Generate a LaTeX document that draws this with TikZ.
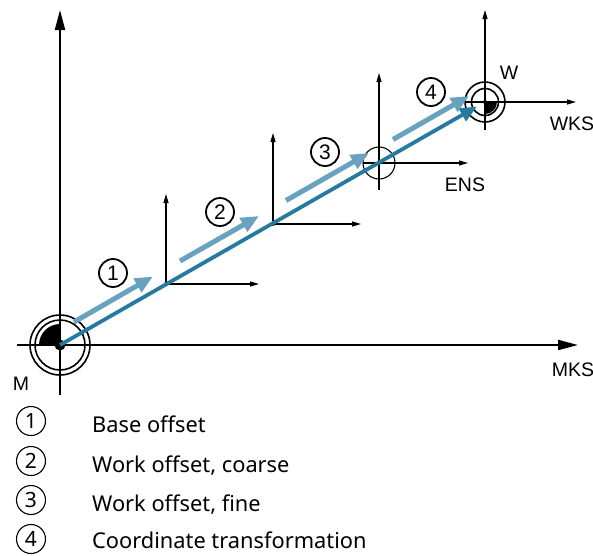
\documentclass[tikz,border=0pt]{standalone}
\usepackage{fontspec}
\setmainfont{Noto Sans}
\newfontfamily\arialf{Liberation Sans}
\usetikzlibrary{arrows.meta}
\definecolor{dblue}{RGB}{38,122,160}
\definecolor{lblue}{RGB}{104,162,190}
\begin{document}
\begin{tikzpicture}[x=1pt,y=-1pt,
  mainaxis/.style={line width=2pt,-{Triangle[length=20pt,width=10pt]}},
  smallaxis/.style={line width=1.1pt,-{Triangle[length=9pt,width=5pt]}},
  thinline/.style={line width=1.1pt},
  ring/.style={line width=1.6pt},
  darkarrow/.style={dblue,line width=3.8pt,-{Triangle[length=17pt,width=14pt]}},
  lightarrow/.style={lblue,line width=5pt,-{Triangle[length=18pt,width=15pt]}},
  numc/.style={circle,draw,line width=1.8pt,minimum size=28pt,inner sep=0pt,font=\arialf\fontsize{21}{21}\selectfont},
  legc/.style={circle,draw,line width=1.1pt,minimum size=29pt,inner sep=0pt,font=\fontsize{21}{21}\selectfont},
  legt/.style={anchor=base west,inner sep=0pt,font=\fontsize{21.8}{22}\selectfont},
  lab/.style={inner sep=0pt,font=\arialf\fontsize{19.5}{20}\selectfont}]
\useasboundingbox (0,0) rectangle (593,555);
% origins
\coordinate (M) at (60,345);
\coordinate (O1) at (166,284);
\coordinate (O2) at (273,224);
\coordinate (E) at (379,163);
\coordinate (W) at (485,102);
% axis ends
\coordinate (Mtop) at (60,10);
\coordinate (Mright) at (578,345);
\coordinate (Mleft) at (17,345);
\coordinate (Mbot) at (60,395);
\coordinate (O1top) at (166,194);
\coordinate (O1right) at (259,284);
\coordinate (O2top) at (273,133);
\coordinate (O2right) at (361,224);
\coordinate (Etop) at (379,73);
\coordinate (Eright) at (468,163);
\coordinate (Eleft) at (363,163);
\coordinate (Ebot) at (379,190);
\coordinate (Wtop) at (485,10);
\coordinate (Wright) at (576,102);
\coordinate (Wleft) at (465,102);
\coordinate (Wbot) at (485,130);
% M system
\fill (M) -- ++(-21,0) arc[start angle=180,end angle=270,radius=21] -- cycle;
\draw[ring] (M) circle[radius=30];
\draw[ring] (M) circle[radius=25];
\draw[thinline] (Mleft) -- (M) -- (Mbot);
\draw[mainaxis] (M) -- (Mtop);
\draw[mainaxis] (M) -- (Mright);
\fill (M) circle[radius=5.5];
% system 1
\draw[smallaxis] (O1) -- (O1top);
\draw[smallaxis] (O1) -- (O1right);
\fill (O1) circle[radius=2];
% system 2
\draw[smallaxis] (O2) -- (O2top);
\draw[smallaxis] (O2) -- (O2right);
\fill (O2) circle[radius=2];
% ENS
\draw[thinline] (Eleft) -- (E) -- (Ebot);
\draw[smallaxis] (E) -- (Etop);
\draw[smallaxis] (E) -- (Eright);
\draw[thinline] (E) circle[radius=16];
\fill (E) circle[radius=2];
% WKS
\fill (W) -- ++(12,0) arc[start angle=0,end angle=90,radius=12] -- cycle;
\draw[ring] (W) circle[radius=20];
\draw[ring] (W) circle[radius=13.5];
\draw[thinline] (Wleft) -- (W) -- (Wbot);
\draw[smallaxis] (W) -- (Wtop);
\draw[smallaxis] (W) -- (Wright);
\fill (W) circle[radius=2];
% blue arrows
\coordinate (Dtip) at (477,106.5);
\draw[darkarrow] (M) -- (Dtip);
\coordinate (a1s) at (74,322);  \coordinate (a1e) at (153,276.5);
\coordinate (a2s) at (180,261); \coordinate (a2e) at (259,216);
\coordinate (a3s) at (286,200.5); \coordinate (a3e) at (369,153);
\coordinate (a4s) at (393,139.5); \coordinate (a4e) at (469,96);
\draw[lightarrow] (a1s) -- (a1e);
\draw[lightarrow] (a2s) -- (a2e);
\draw[lightarrow] (a3s) -- (a3e);
\draw[lightarrow] (a4s) -- (a4e);
% numbered circles
\node[numc] (n1) at (113,273) {1};
\node[numc] (n2) at (220,212) {2};
\node[numc] (n3) at (325,152) {3};
\node[numc] (n4) at (431,92) {4};
% labels
\node[lab] (lM) at (21,384) {M};
\node[lab] (lMKS) at (573,370) {MKS};
\node[lab] (lENS) at (465,185) {ENS};
\node[lab] (lWKS) at (572,124) {WKS};
\node[lab] (lW) at (509,73) {W};
% legend
\node[legc] (l1) at (31,421) {1};
\node[legc] (l2) at (31,461) {2};
\node[legc] (l3) at (31,500) {3};
\node[legc] (l4) at (31,539) {4};
\node[legt] (t1) at (92,432) {Base offset};
\node[legt] (t2) at (92,472) {Work offset, coarse};
\node[legt] (t3) at (92,511) {Work offset, fine};
\node[legt] (t4) at (92,548) {Coordinate transformation};
\end{tikzpicture}
\end{document}
